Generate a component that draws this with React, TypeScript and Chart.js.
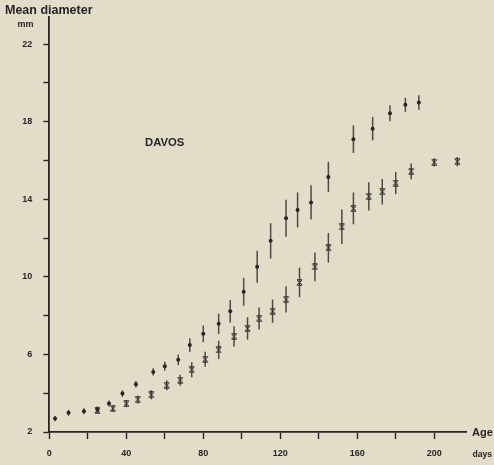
import { useEffect, useRef } from 'react';
import { Chart, registerables } from 'chart.js';

Chart.register(...registerables);

// Series 1 (dots) — age in days, mean diameter in mm, half error bar in mm
const dotDays = [3, 10, 18, 25, 31, 38, 45, 54, 60, 67, 73, 80, 88, 94, 101, 108, 115, 123, 129, 136, 145, 158, 168, 177, 185, 192];
const dotMeans = [2.69, 2.99, 3.07, 3.17, 3.47, 3.98, 4.46, 5.1, 5.39, 5.72, 6.48, 7.06, 7.58, 8.23, 9.23, 10.52, 11.86, 13.02, 13.45, 13.84, 15.15, 17.1, 17.64, 18.44, 18.87, 18.99];
const dotErr = [0.14, 0.15, 0.15, 0.15, 0.15, 0.17, 0.17, 0.19, 0.23, 0.27, 0.36, 0.43, 0.52, 0.58, 0.72, 0.83, 0.91, 0.95, 0.9, 0.88, 0.78, 0.71, 0.6, 0.41, 0.36, 0.37];

// Series 2 (crosses)
const crossDays = [25, 33, 40, 46, 53, 61, 68, 74, 81, 88, 96, 103, 109, 116, 123, 130, 138, 145, 152, 158, 166, 173, 180, 188, 200, 212];
const crossMeans = [3.12, 3.22, 3.46, 3.67, 3.92, 4.41, 4.67, 5.21, 5.75, 6.23, 6.93, 7.34, 7.85, 8.23, 8.84, 9.71, 10.52, 11.5, 12.58, 13.53, 14.15, 14.39, 14.84, 15.44, 15.91, 15.94];
const crossErr = [0.15, 0.15, 0.18, 0.2, 0.23, 0.26, 0.28, 0.39, 0.39, 0.47, 0.52, 0.58, 0.57, 0.6, 0.68, 0.76, 0.74, 0.76, 0.89, 0.82, 0.73, 0.66, 0.57, 0.41, 0.21, 0.24];

const xLabelEvery = 40;
const yLabelStart = 2;
const yLabelEvery = 4;

const yTitle = 'Mean diameter';
const yUnit = 'mm';
const xTitle = 'Age';
const xUnit = 'days';
const siteLabel = 'DAVOS';

const BG = '#e2dcc8';
const INK = '#262626';
const FONT = '"Liberation Sans", Arial, Helvetica, sans-serif';

function makeCrossMarker(): HTMLCanvasElement {
  const c = document.createElement('canvas');
  c.width = 7;
  c.height = 7;
  const g = c.getContext('2d')!;
  g.strokeStyle = INK;
  g.lineWidth = 1;
  g.beginPath();
  g.moveTo(0.8, 1); g.lineTo(6.2, 6);
  g.moveTo(6.2, 1); g.lineTo(0.8, 6);
  g.moveTo(1, 0.8); g.lineTo(6, 0.8);
  g.moveTo(1, 6.2); g.lineTo(6, 6.2);
  g.stroke();
  return c;
}

export default function App() {
  const ref = useRef<HTMLCanvasElement>(null);

  useEffect(() => {
    const canvas = ref.current;
    if (!canvas) return;

    const background = {
      id: 'bg',
      beforeDraw(chart: any) {
        const { ctx, width, height } = chart;
        ctx.save();
        ctx.fillStyle = BG;
        ctx.fillRect(0, 0, width, height);
        ctx.restore();
      },
    };

    const errorBars = {
      id: 'errorBars',
      beforeDatasetsDraw(chart: any) {
        const { ctx } = chart;
        const xs = chart.scales.x;
        const ys = chart.scales.y;
        ctx.save();
        ctx.strokeStyle = 'rgba(38,38,38,0.8)';
        ctx.lineWidth = 1.5;
        const draw = (days: number[], means: number[], errs: number[]) => {
          for (let i = 0; i < days.length; i++) {
            const px = xs.getPixelForValue(days[i]);
            ctx.beginPath();
            ctx.moveTo(px, ys.getPixelForValue(means[i] - errs[i]));
            ctx.lineTo(px, ys.getPixelForValue(means[i] + errs[i]));
            ctx.stroke();
          }
        };
        draw(dotDays, dotMeans, dotErr);
        draw(crossDays, crossMeans, crossErr);
        ctx.restore();
      },
    };

    const texts = {
      id: 'texts',
      afterDraw(chart: any) {
        const { ctx } = chart;
        ctx.save();
        ctx.fillStyle = INK;
        ctx.textBaseline = 'middle';
        ctx.textAlign = 'left';
        ctx.font = `bold 12.5px ${FONT}`;
        ctx.fillText(yTitle, 5, 11);
        ctx.font = `bold 9px ${FONT}`;
        ctx.fillText(yUnit, 17.5, 25);
        ctx.font = `bold 11.3px ${FONT}`;
        ctx.fillText(siteLabel, 145, 143);
        ctx.font = `bold 11px ${FONT}`;
        ctx.fillText(xTitle, 472, 433);
        ctx.font = `bold 8.6px ${FONT}`;
        ctx.fillText(xUnit, 472.5, 454.5);
        ctx.restore();
      },
    };

    const chart = new Chart(canvas, {
      type: 'scatter',
      data: {
        datasets: [
          {
            label: 'dots',
            data: dotDays.map((d, i) => ({ x: d, y: dotMeans[i] })),
            pointStyle: 'circle',
            pointRadius: 2,
            backgroundColor: INK,
            borderWidth: 0,
          },
          {
            label: 'crosses',
            data: crossDays.map((d, i) => ({ x: d, y: crossMeans[i] })),
            pointStyle: makeCrossMarker(),
            pointRadius: 3.5,
            backgroundColor: INK,
            borderColor: INK,
          },
        ],
      },
      options: {
        responsive: false,
        devicePixelRatio: 1,
        animation: false,
        events: [],
        layout: { padding: { left: 0, right: 28, top: 17, bottom: 0 } },
        plugins: {
          legend: { display: false },
          tooltip: { enabled: false },
          title: { display: false },
        },
        scales: {
          x: {
            type: 'linear',
            min: 0,
            max: 216.5,
            afterFit(scale: any) {
              scale.height = 33;
            },
            ticks: {
              stepSize: 20,
              includeBounds: false,
              autoSkip: false,
              maxRotation: 0,
              padding: 9,
              color: INK,
              font: { family: FONT, size: 9, weight: 'bold' },
              callback: (v: any) => (Number(v) % xLabelEvery === 0 ? String(v) : ''),
            },
            grid: {
              drawOnChartArea: false,
              drawTicks: true,
              tickLength: 7,
              tickColor: INK,
              tickWidth: 1.4,
            },
            border: { display: true, color: INK, width: 1.8 },
          },
          y: {
            type: 'linear',
            min: 2,
            max: 23.4,
            afterFit(scale: any) {
              scale.width = 49.3;
            },
            ticks: {
              stepSize: 2,
              includeBounds: false,
              autoSkip: false,
              padding: 11,
              color: INK,
              font: { family: FONT, size: 9, weight: 'bold' },
              callback: (v: any) => ((Number(v) - yLabelStart) % yLabelEvery === 0 ? String(v) : ''),
            },
            grid: {
              drawOnChartArea: false,
              drawTicks: true,
              tickLength: 6,
              tickColor: INK,
              tickWidth: 1.4,
            },
            border: { display: true, color: INK, width: 1.8 },
          },
        },
      },
      plugins: [background, errorBars, texts],
    });

    return () => chart.destroy();
  }, []);

  return (
    <div style={{ position: 'fixed', left: 0, top: 0, width: 494, height: 465, background: BG }}>
      <canvas ref={ref} width={494} height={465} style={{ display: 'block', width: 494, height: 465 }} />
    </div>
  );
}
